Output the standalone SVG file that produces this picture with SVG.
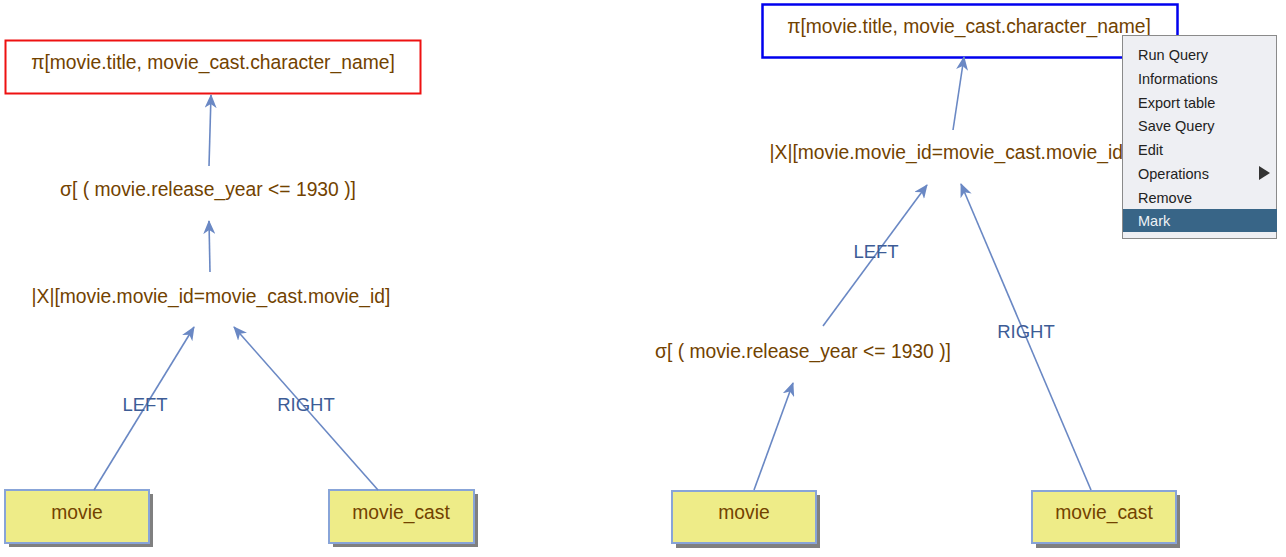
<svg xmlns="http://www.w3.org/2000/svg" width="1286" height="557" viewBox="0 0 1286 557">
  <style>
    .op { font-family: "Liberation Sans", Arial, sans-serif; font-size: 19.3px; fill: #724200; text-anchor: middle; }
    .lbl { font-family: "Liberation Sans", Arial, sans-serif; font-size: 18.5px; fill: #3d5c96; text-anchor: middle; }
    .edge { stroke: #6a88c4; stroke-width: 1.6; fill: none; marker-end: url(#head); }
    .rel rect.box { fill: #eeec88; stroke: #88a4d8; stroke-width: 2; }
    .rel rect.shadow { fill: #808080; }
    .menu-item { font-family: "Liberation Sans", Arial, sans-serif; font-size: 14.5px; fill: #222222; }
  </style>
  <defs>
    <marker id="head" viewBox="0 0 14 12" refX="13" refY="6" markerWidth="14" markerHeight="12" markerUnits="userSpaceOnUse" orient="auto">
      <path d="M0,0 L14,6 L0,12 L4,6 Z" fill="#6a88c4"/>
    </marker>
  </defs>
  <rect width="1286" height="557" fill="#ffffff"/>

  <!-- Left plan -->
  <g id="l-project">
    <rect x="5.5" y="40.5" width="415" height="53" fill="#ffffff" stroke="#ee1111" stroke-width="2"/>
    <text class="op" x="213" y="69">π[movie.title, movie_cast.character_name]</text>
  </g>
  <g id="l-select">
    <text class="op" x="208" y="196">σ[ ( movie.release_year &lt;= 1930 )]</text>
  </g>
  <g id="l-join">
    <text class="op" x="211" y="303">|X|[movie.movie_id=movie_cast.movie_id]</text>
  </g>
  <g id="l-movie" class="rel">
    <rect class="shadow" x="9" y="494" width="144" height="53"/>
    <rect class="box" x="5" y="490" width="144" height="53"/>
    <text class="op" x="77" y="519">movie</text>
  </g>
  <g id="l-movie_cast" class="rel">
    <rect class="shadow" x="333" y="494" width="145" height="53"/>
    <rect class="box" x="329" y="490" width="145" height="53"/>
    <text class="op" x="401" y="519">movie_cast</text>
  </g>

  <!-- Right plan -->
  <g id="r-project">
    <rect x="762.5" y="4.5" width="415" height="53" fill="#ffffff" stroke="#0000ee" stroke-width="2.5"/>
    <text class="op" x="969" y="33">π[movie.title, movie_cast.character_name]</text>
  </g>
  <g id="r-join">
    <text class="op" x="949" y="159">|X|[movie.movie_id=movie_cast.movie_id]</text>
  </g>
  <g id="r-select">
    <text class="op" x="803" y="358">σ[ ( movie.release_year &lt;= 1930 )]</text>
  </g>
  <g id="r-movie" class="rel">
    <rect class="shadow" x="676" y="495" width="144" height="53"/>
    <rect class="box" x="672" y="491" width="144" height="52"/>
    <text class="op" x="744" y="519">movie</text>
  </g>
  <g id="r-movie_cast" class="rel">
    <rect class="shadow" x="1036" y="495" width="144" height="53"/>
    <rect class="box" x="1032" y="491" width="144" height="52"/>
    <text class="op" x="1104" y="519">movie_cast</text>
  </g>

  <!-- Connectors -->
  <g id="connectors">
    <line class="edge" x1="209" y1="166" x2="211" y2="95"/>
    <line class="edge" x1="210" y1="272" x2="209" y2="221"/>
    <line class="edge" x1="94" y1="490" x2="194" y2="327"/>
    <line class="edge" x1="378" y1="490" x2="234" y2="327"/>
    <text class="lbl" x="145" y="411">LEFT</text>
    <text class="lbl" x="306" y="411">RIGHT</text>

    <line class="edge" x1="953" y1="130" x2="964" y2="57"/>
    <line class="edge" x1="823" y1="326" x2="927" y2="185"/>
    <line class="edge" x1="1091" y1="490" x2="961" y2="184"/>
    <line class="edge" x1="754" y1="490" x2="793" y2="383"/>
    <text class="lbl" x="876" y="258">LEFT</text>
    <text class="lbl" x="1026" y="338">RIGHT</text>
  </g>

  <!-- Context menu -->
  <g id="context-menu">
    <rect x="1122.5" y="35.5" width="154" height="203" fill="#eeeff3" stroke="#8a8a8a" stroke-width="1"/>
    <rect x="1123" y="209" width="154" height="23" fill="#386587"/>
    <text class="menu-item" x="1138" y="60">Run Query</text>
    <text class="menu-item" x="1138" y="84">Informations</text>
    <text class="menu-item" x="1138" y="108">Export table</text>
    <text class="menu-item" x="1138" y="131">Save Query</text>
    <text class="menu-item" x="1138" y="155">Edit</text>
    <text class="menu-item" x="1138" y="179">Operations</text>
    <path d="M1259,166 L1270,173 L1259,180 Z" fill="#333333"/>
    <text class="menu-item" x="1138" y="203">Remove</text>
    <text class="menu-item" x="1138" y="226" style="fill:#eef2f6">Mark</text>
  </g>
</svg>
